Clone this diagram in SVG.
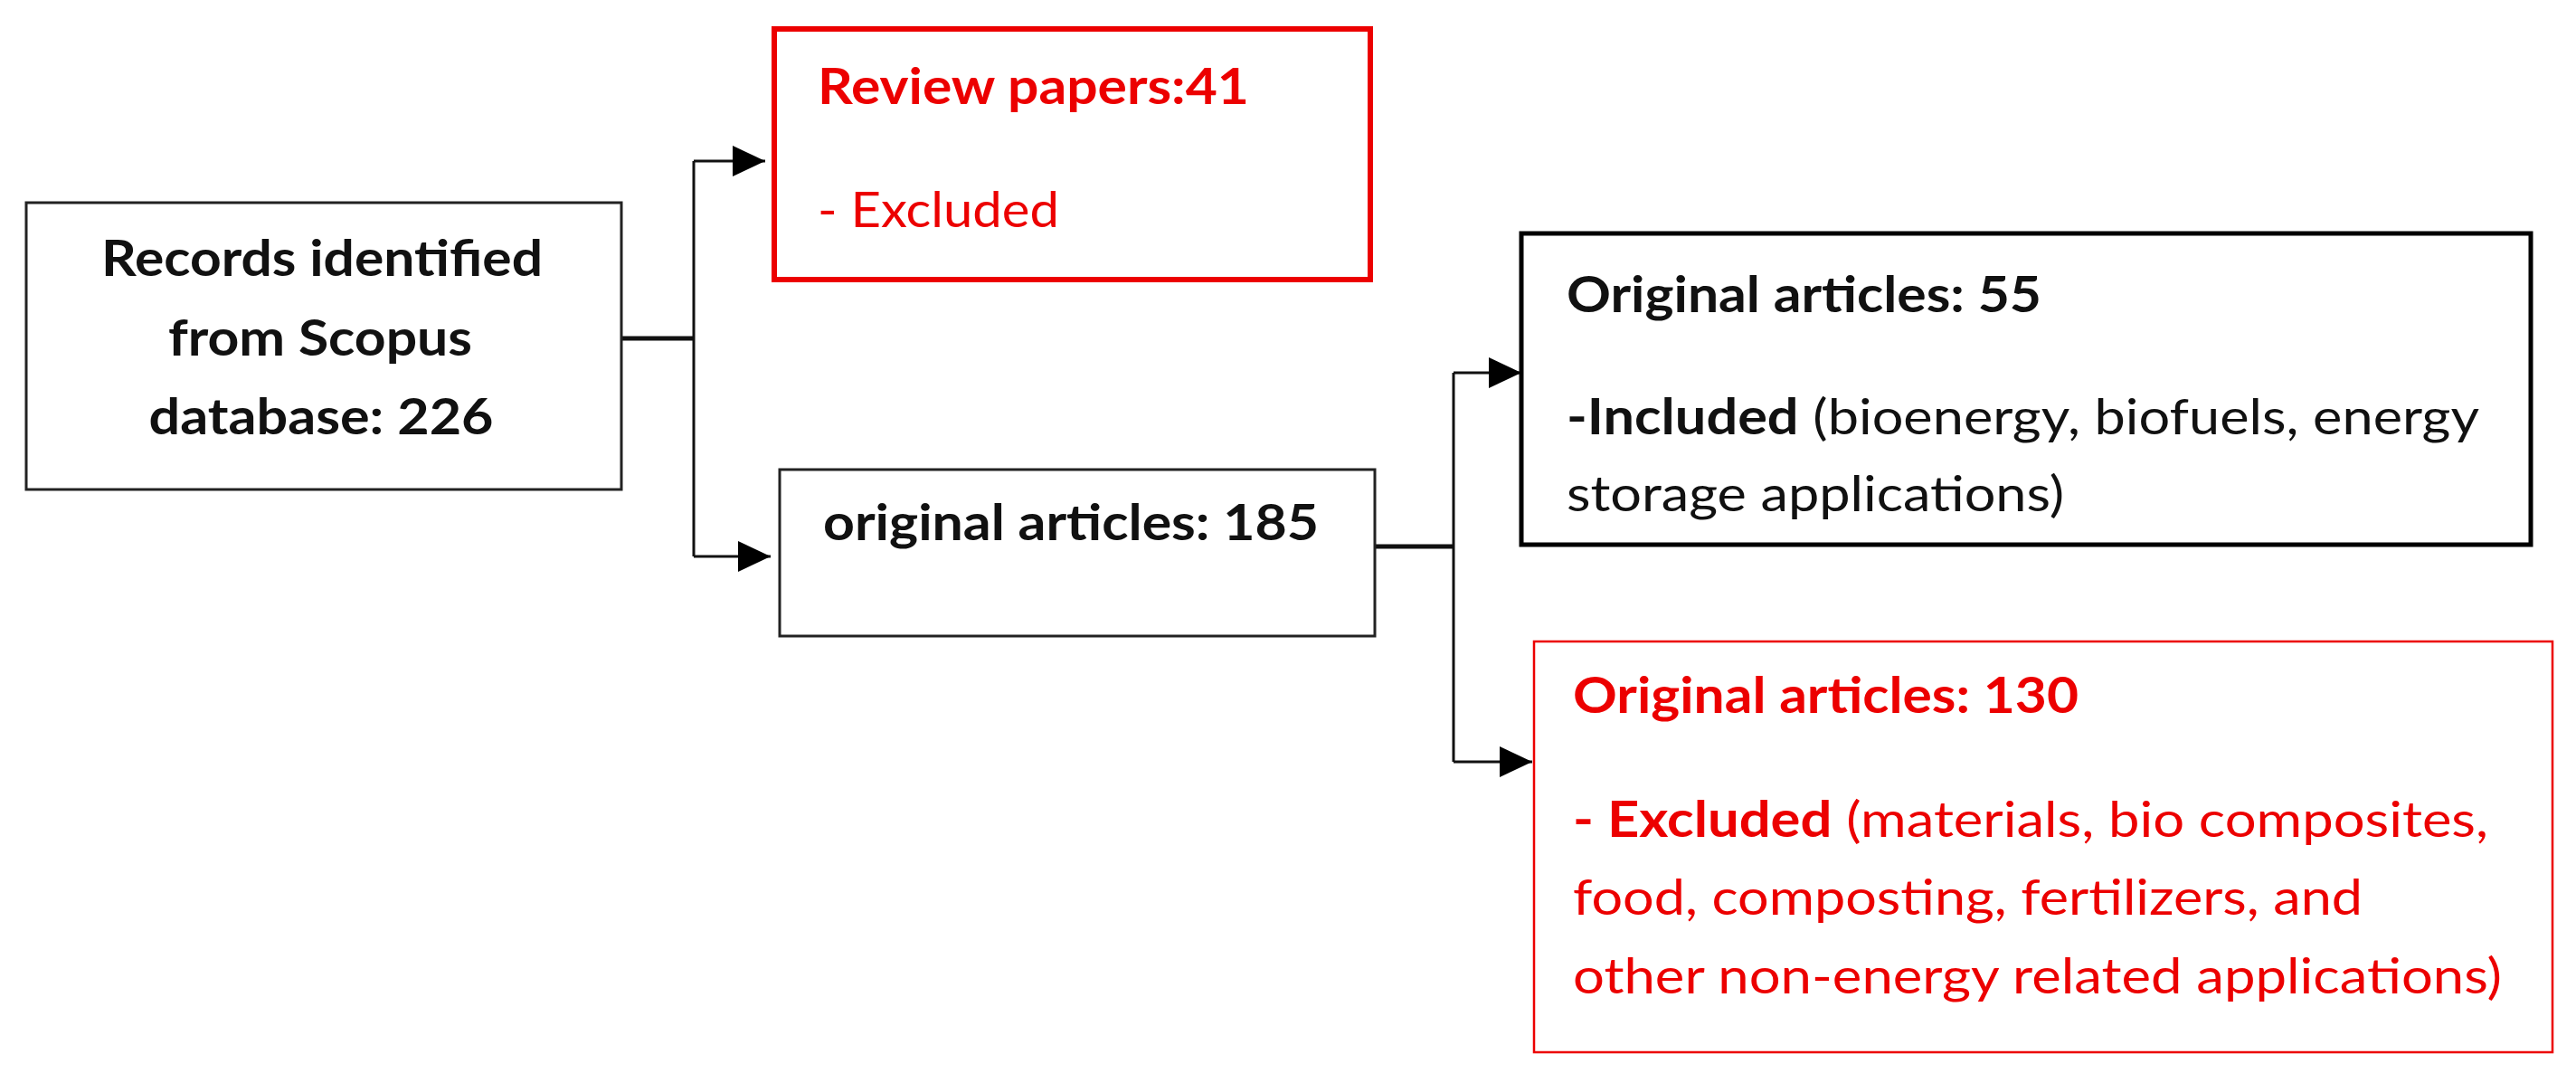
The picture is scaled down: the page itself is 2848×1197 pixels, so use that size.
<svg xmlns="http://www.w3.org/2000/svg" width="2848" height="1197" viewBox="0 0 2848 1197">
<defs>
<style>
text{font-family:Lato,"Open Sans","Liberation Sans",sans-serif;font-size:55px;}
.b{font-weight:bold;}
.k{fill:#111;}
.r{fill:#ec0000;}
.box{fill:#fff;stroke:#222;stroke-width:3;}
.boxk{fill:#fff;stroke:#000;stroke-width:5;}
.boxr{fill:#fff;stroke:#ec0000;stroke-width:6;}
.boxr2{fill:#fff;stroke:#ec0000;stroke-width:2.5;}
.ln{stroke:#111;stroke-width:3;fill:none;}
.stub{stroke:#111;stroke-width:5;fill:none;}
</style>
<marker id="ah" markerUnits="userSpaceOnUse" markerWidth="36" markerHeight="34" refX="36" refY="17" orient="auto">
<path d="M0,0 L36,17 L0,34 Z" fill="#000"/>
</marker>
</defs>
<rect width="2848" height="1197" fill="#fff"/>
<g id="connectors">
<path class="stub" d="M687,374 H767"/>
<path class="ln" d="M767,178 V615"/>
<path class="ln" d="M767,178 H846" marker-end="url(#ah)"/>
<path class="ln" d="M767,615 H852" marker-end="url(#ah)"/>
<path class="stub" d="M1520,604 H1607"/>
<path class="ln" d="M1607,412 V842"/>
<path class="ln" d="M1607,412 H1682" marker-end="url(#ah)"/>
<path class="ln" d="M1607,842 H1694" marker-end="url(#ah)"/>
</g>
<g id="records">
<rect class="box" x="29" y="224" width="658" height="317"/>
<text class="b k" x="356" y="305" text-anchor="middle" textLength="488" lengthAdjust="spacingAndGlyphs">Records identified</text>
<text class="b k" x="354" y="393" text-anchor="middle" textLength="336" lengthAdjust="spacingAndGlyphs">from Scopus</text>
<text class="b k" x="355" y="480" text-anchor="middle" textLength="381" lengthAdjust="spacingAndGlyphs">database: 226</text>
</g>
<g id="review">
<rect class="boxr" x="856" y="32" width="659" height="277"/>
<text class="b r" x="904" y="115" textLength="477" lengthAdjust="spacingAndGlyphs">Review papers:41</text>
<text class="r" x="904" y="251" textLength="267" lengthAdjust="spacingAndGlyphs">- Excluded</text>
</g>
<g id="original185">
<rect class="box" x="862" y="519" width="658" height="184"/>
<text class="b k" x="910" y="597" textLength="548" lengthAdjust="spacingAndGlyphs">original articles: 185</text>
</g>
<g id="included">
<rect class="boxk" x="1682" y="258" width="1116" height="344"/>
<text class="b k" x="1732" y="345" textLength="525" lengthAdjust="spacingAndGlyphs">Original articles: 55</text>
<text class="k" x="1732" y="480" textLength="1009" lengthAdjust="spacingAndGlyphs"><tspan class="b">-Included</tspan> (bioenergy, biofuels, energy</text>
<text class="k" x="1732" y="565" textLength="550" lengthAdjust="spacingAndGlyphs">storage applications)</text>
</g>
<g id="excluded">
<rect class="boxr2" x="1696" y="709" width="1126" height="454"/>
<text class="b r" x="1739" y="788" textLength="559" lengthAdjust="spacingAndGlyphs">Original articles: 130</text>
<text class="r" x="1739" y="925" textLength="1012" lengthAdjust="spacingAndGlyphs"><tspan class="b">- Excluded</tspan> (materials, bio composites,</text>
<text class="r" x="1739" y="1011" textLength="873" lengthAdjust="spacingAndGlyphs">food, composting, fertilizers, and</text>
<text class="r" x="1739" y="1098" textLength="1027" lengthAdjust="spacingAndGlyphs">other non-energy related applications)</text>
</g>
</svg>
